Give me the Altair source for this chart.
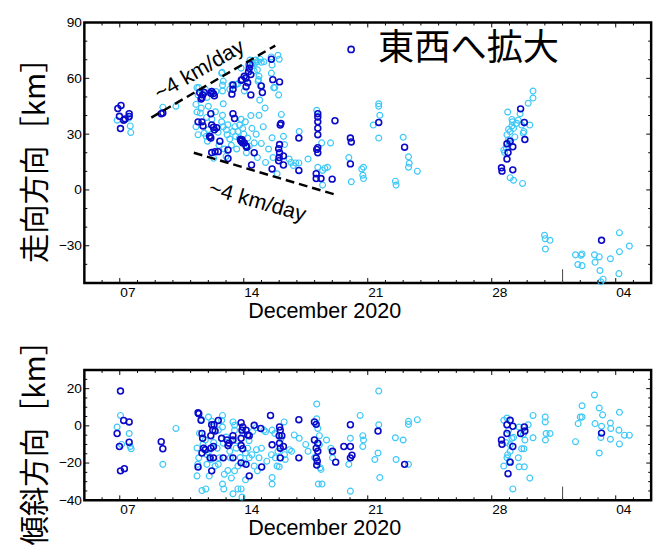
import altair as alt
import pandas as pd

LIGHT = "#3CC8F8"
DARK = "#0A0AC8"
LATIN = "Liberation Sans"
CJK = "Noto Sans CJK JP"

# ---- data: (day of December 2020, km); 32 = Jan 1 2021 ----
top_light = [
    (6.85, 37.5), (7.59, 34.4), (7.62, 30.9), (7.5, 38.5),
    (9.43, 44.5), (10.17, 45.0),
    (11.46, 55.0), (11.7, 52.9), (11.42, 51.1), (11.92, 49.7), (12.14, 51.8), (12.43, 52.9),
    (12.8, 56.4), (12.8, 53.2), (12.84, 58.5), (12.75, 62.8), (13.33, 56.7), (13.39, 54.1),
    (13.67, 57.1), (14.03, 53.2), (14.13, 59.7), (14.26, 67.5), (14.35, 69.8), (14.46, 66.8),
    (14.59, 64.0), (14.64, 68.1), (14.77, 69.0), (14.92, 70.3), (14.99, 68.6), (14.86, 61.1),
    (14.83, 59.3), (14.95, 55.9), (14.9, 48.3), (15.56, 62.8), (15.93, 72.4), (16.0, 70.3),
    (15.75, 55.0), (15.97, 51.1), (15.55, 71.5),
    (11.36, 55.0), (11.83, 54.1), (12.78, 63.2), (13.21, 54.1), (13.85, 65.5), (13.57, 56.7),
    (14.5, 68.1), (14.68, 69.8), (14.77, 64.6), (14.81, 58.5), (15.14, 68.9), (15.6, 67.2),
    (15.69, 55.0),
    (11.36, 41.9), (11.55, 41.4), (11.42, 29.7), (11.77, 30.5), (11.88, 28.8), (11.95, 26.2),
    (12.84, 46.3), (12.8, 40.1), (12.75, 36.6), (12.84, 34.0), (13.02, 32.3), (13.06, 29.7),
    (13.21, 27.4), (13.39, 31.4), (13.5, 34.0), (13.54, 28.8), (13.67, 31.4), (13.76, 34.9),
    (13.76, 27.9), (13.94, 33.1), (14.09, 36.6), (14.22, 27.9), (14.31, 23.6), (14.46, 33.1),
    (14.59, 25.3), (14.86, 40.1), (14.77, 17.4), (14.99, 25.0), (15.23, 14.8), (15.65, 17.4),
    (15.88, 8.7), (16.12, 40.6), (16.24, 28.8), (16.3, 24.4), (16.56, 16.6), (16.67, 14.8),
    (16.8, 13.1), (16.93, 14.5), (17.11, 14.5), (17.13, 31.4), (17.63, 16.6), (18.12, 42.8),
    (18.18, 12.2), (18.4, 25.3), (18.45, 10.5), (18.58, 11.7), (18.73, 12.2), (18.45, 2.6),
    (18.9, 25.3), (19.93, 17.4), (20.07, 4.4), (20.66, 11.3), (20.76, 12.2), (20.72, 7.9),
    (20.76, 6.1), (21.31, 34.9), (21.62, 46.3), (21.62, 45.0), (21.62, 27.9), (21.68, 40.1),
    (11.3, 46.0), (11.6, 44.0), (11.9, 39.0), (12.0, 45.0), (12.2, 38.0), (12.4, 42.0),
    (12.55, 31.0), (12.6, 24.0), (12.9, 22.0), (13.1, 35.0), (13.3, 24.0), (13.6, 22.0),
    (13.85, 38.0), (14.0, 30.0), (14.15, 20.0), (14.4, 40.0), (14.7, 30.0), (15.1, 34.0),
    (15.4, 22.0), (15.2, 44.0), (12.3, 17.0), (13.0, 18.0), (15.6, 28.0), (12.0, 32.5),
    (11.3, 34.0),
    (23.0, 28.3), (23.3, 17.8), (23.34, 14.3), (23.3, 12.2), (23.8, 10.1), (22.56, 4.7), (22.6, 2.6),
    (28.9, 41.9), (29.14, 37.9), (29.17, 36.6), (28.86, 29.7), (28.95, 32.6), (29.04, 31.4),
    (29.14, 34.4), (29.23, 33.1), (29.41, 35.8), (29.5, 37.5), (29.6, 41.0), (29.69, 34.9),
    (29.78, 30.5), (29.82, 31.4), (30.06, 46.6), (30.15, 34.9), (30.33, 53.2), (30.33, 49.4),
    (28.68, 21.5), (28.73, 20.1), (28.82, 22.7), (29.04, 6.6), (29.23, 5.2), (29.74, 3.5),
    (28.95, 27.0), (29.0, 25.0), (29.3, 28.5),
    (30.98, -24.4), (31.02, -26.2), (31.29, -27.1), (31.03, -31.8), (32.73, -34.9), (32.86, -40.1),
    (33.04, -35.1), (33.1, -34.4), (33.1, -40.7), (33.8, -34.9), (33.83, -38.9), (34.07, -36.0),
    (34.11, -43.3), (34.29, -48.0), (34.16, -49.4), (34.7, -37.0), (35.21, -23.0), (35.21, -33.2),
    (35.18, -45.0), (35.77, -30.2),
]

top_dark = [
    (6.89, 43.8), (7.07, 45.4), (6.98, 39.6), (7.22, 37.5), (7.53, 41.0), (7.53, 39.5), (7.04, 33.0), (7.3, 38.2),
    (9.34, 41.0), (9.43, 41.4),
    (11.51, 52.4), (11.64, 49.7), (11.68, 51.1), (11.77, 52.4), (12.19, 52.9), (12.29, 51.8),
    (12.34, 50.6), (13.39, 56.4), (13.39, 54.1), (13.33, 51.5), (13.89, 59.3), (14.03, 61.1),
    (14.22, 57.6), (14.31, 65.4), (14.35, 67.5), (14.4, 62.0), (14.13, 55.5), (14.4, 51.1),
    (14.99, 55.9), (15.05, 52.4), (15.56, 70.3), (15.64, 59.3), (16.02, 58.1), (13.86, 59.0),
    (14.12, 60.2), (14.27, 63.5), (12.15, 52.0), (11.59, 48.9),
    (11.42, 36.6), (11.64, 36.6), (11.7, 34.4), (12.14, 41.0), (12.19, 34.9), (12.34, 32.3),
    (12.29, 33.7), (12.1, 28.8), (12.14, 27.9), (12.65, 26.2), (13.39, 41.0), (13.48, 38.4),
    (13.9, 27.05), (13.94, 25.3), (13.85, 26.2), (14.13, 23.6), (12.19, 20.1), (12.38, 20.6),
    (12.56, 20.6), (13.11, 21.5), (13.11, 16.9), (14.44, 13.4), (14.59, 20.0), (16.06, 34.9),
    (16.1, 35.8), (16.02, 24.4), (15.97, 22.2), (16.02, 20.0), (16.0, 17.4), (16.24, 18.3),
    (16.24, 13.4), (15.97, 15.7), (15.6, 11.3), (17.11, 27.9), (17.11, 10.5), (18.18, 41.0),
    (18.18, 39.2), (18.18, 36.6), (18.18, 33.2), (18.18, 29.7), (18.18, 22.7), (18.12, 21.8),
    (18.18, 20.0), (18.09, 8.7), (18.09, 6.1), (18.36, 6.1), (18.99, 5.8), (19.15, 37.2),
    (20.02, 27.9), (20.07, 25.8), (20.02, 14.0), (21.62, 36.3), (12.07, 28.8), (12.47, 33.5),
    (13.81, 27.1), (14.03, 25.3), (14.17, 23.0),
    (23.08, 23.0), (29.63, 43.6), (29.84, 36.3), (29.87, 27.1), (28.86, 24.8), (29.04, 26.2),
    (29.19, 23.2), (28.92, 20.1), (28.86, 16.6), (28.55, 11.9), (28.58, 10.1), (29.19, 10.8),
    (34.2, -27.1),
]

bot_light = [
    (7.04, 5.6), (6.85, -0.6), (7.53, -4.1), (7.59, -11.1), (7.64, -12.3), (7.1, -10.0),
    (9.43, -20.7), (10.17, -1.4),
    (11.36, -11.9), (11.46, -17.2), (11.4, -20.7), (11.36, -26.9), (11.64, -34.8), (11.86, -33.9),
    (12.01, 4.7), (12.19, 2.4), (11.83, -7.6), (11.92, -15.5), (11.92, -20.7), (12.14, -18.1),
    (12.56, -2.3), (12.75, 2.9), (12.8, 5.6), (12.8, -0.6), (12.84, -9.3), (12.8, -31.3),
    (12.87, -33.9), (12.38, -21.6), (12.56, -20.7), (12.62, -17.2), (13.21, -13.7), (13.24, -17.2),
    (13.39, 2.1), (13.48, 0.3), (13.48, -2.3), (13.57, -12.0), (13.67, -21.6), (13.48, -24.2),
    (13.39, -36.5), (13.67, -33.9), (13.85, -33.9), (13.9, -38.3), (14.09, -14.6), (14.22, -12.0),
    (14.31, -17.2), (14.46, -15.5), (14.59, -21.6), (14.72, -12.8), (14.77, -24.2), (14.86, -17.2),
    (15.14, -2.3), (15.23, -3.2), (15.6, -2.3), (15.56, -15.5), (15.6, -27.8), (15.6, -31.3),
    (15.75, -4.1), (15.78, -17.2), (15.93, -13.7), (15.88, -21.6), (16.28, 2.1), (16.3, -15.5),
    (16.34, -18.1), (16.58, -12.8), (16.7, -13.7), (16.85, -4.9), (17.13, -6.7), (17.63, -13.7),
    (18.12, 11.7), (18.12, 3.8), (18.18, -1.4), (18.27, -5.3), (18.27, -10.2), (18.31, -22.5),
    (18.36, -23.4), (18.21, -31.3), (18.42, -31.3), (18.67, -7.6), (18.92, -12.0), (19.01, -17.2),
    (20.02, -6.7), (19.93, -20.7), (20.02, -35.1), (20.57, 5.6), (20.72, -5.3), (20.76, -7.6),
    (20.72, -11.1), (21.4, -18.1), (21.58, -14.6), (21.62, 18.7), (21.62, 0.6), (21.68, -27.8),
    (11.5, -4.0), (11.7, -10.0), (12.0, -14.0), (12.3, -9.0), (12.5, -12.0), (13.0, -6.0),
    (13.1, -24.0), (13.3, -28.0), (13.6, -8.0), (13.8, -17.0), (14.0, -20.0), (14.3, -8.0),
    (14.5, -3.0), (14.7, -1.0), (11.6, 3.5), (12.05, -27.0), (12.9, -26.0), (14.1, -29.0),
    (13.95, -4.0), (15.0, -12.0), (15.3, -19.0), (16.0, -22.0), (16.1, -7.0), (17.5, -10.0),
    (18.0, -17.0),
    (22.56, -6.4), (22.6, -18.1), (23.0, -7.6), (23.3, 2.4), (23.3, 0.8), (23.3, -20.7), (23.8, 3.3),
    (28.68, 3.0), (28.86, 4.2), (28.68, -21.6), (28.86, -17.2), (28.9, -15.5), (29.04, -13.7),
    (29.04, -10.2), (29.14, -6.7), (29.23, -6.2), (28.95, -2.3), (29.19, -33.9), (29.5, -17.2),
    (29.54, -22.0), (29.84, -22.0), (29.69, -12.3), (29.82, -12.3), (29.87, -7.6), (29.78, -4.6),
    (30.06, 0.6), (30.33, 5.6), (30.33, -6.4), (30.15, -28.1), (31.02, 4.7), (31.02, 2.1),
    (31.03, -7.6), (31.07, -4.1), (31.29, -4.1), (29.54, -0.6), (29.0, -19.0), (28.8, -9.0),
    (32.73, -8.5), (32.88, 1.2), (33.0, 4.7), (33.1, 4.7), (33.1, 10.8), (33.8, 16.6),
    (33.83, 1.2), (34.07, 9.6), (34.2, -0.2), (34.26, 5.9), (34.16, -6.2), (34.07, -14.6),
    (34.7, 1.5), (34.72, -1.4), (34.7, -7.2), (35.21, 7.3), (35.18, -2.3), (35.21, -9.7),
    (35.49, -5.0), (35.77, -5.0),
]

bot_dark = [
    (7.04, 18.7), (6.85, -4.1), (7.22, 2.9), (7.53, 2.1), (7.53, -8.8), (6.98, -11.1), (7.04, -24.2), (7.26, -23.0),
    (9.34, -8.5), (9.43, -12.3),
    (11.42, 7.0), (11.46, 6.5), (11.59, 3.0), (11.64, -4.1), (11.68, -6.7), (11.42, -22.1),
    (12.19, -24.2), (11.73, -12.0), (11.64, -14.6), (11.83, -12.8), (12.1, -17.2), (12.29, -17.2),
    (12.19, 0.6), (12.32, 0.6), (12.25, -2.3), (12.38, -2.8), (12.14, -5.3), (12.29, -11.1),
    (12.14, -12.0), (12.56, 2.9), (12.75, -6.7), (12.84, -17.2), (13.06, -7.6), (13.11, -10.6),
    (13.17, -9.3), (13.39, -5.3), (13.39, -7.6), (13.39, -17.2), (13.85, 1.7), (13.9, -2.3),
    (13.94, -0.6), (13.85, -6.7), (13.85, -10.6), (13.94, -12.3), (14.13, -2.3), (14.22, -4.9),
    (14.31, -5.3), (14.13, -20.7), (14.31, -26.9), (14.59, 0.3), (13.85, -19.9), (14.96, -1.4),
    (15.01, -22.1), (15.51, 5.6), (15.6, -10.2), (16.02, -0.6), (16.06, -2.3), (16.0, -5.3),
    (16.15, -5.3), (16.02, -9.3), (16.06, -12.0), (16.24, -11.1), (16.06, -17.2), (17.11, 3.3),
    (17.11, -17.2), (17.99, 2.1), (18.09, 0.8), (17.99, -7.6), (18.18, -9.3), (18.09, -12.0),
    (18.18, -13.7), (18.09, -17.2), (18.15, -19.0), (18.12, -21.1), (19.01, -13.7), (19.19, -19.5),
    (19.65, -11.1), (20.02, -11.1), (20.02, 0.6), (20.02, -17.2), (20.11, -15.8), (21.58, -2.8),
    (23.08, -20.7), (28.55, -7.6), (28.58, -9.9), (29.04, 3.0), (28.86, 0.6), (29.19, -0.2),
    (28.86, -4.1), (29.19, -11.1), (29.04, -19.5), (28.92, -25.7), (29.63, -4.1), (29.84, -0.6),
    (29.87, -2.8), (34.2, -3.9),
]

# dashed ~4 km/day guide lines (day, km, segment)
guide_lines = [(8.78, 38.9, "a"), (15.78, 77.6, "a"), (11.18, 20.0, "b"), (19.19, -2.6, "b")]
guide_labels = [(11.49, 64.6, "~4 km/day"), (14.77, -6.1, "~4 km/day")]
legend_label = "東西へ拡大"
top_title = "走向方向［km］"
bot_title = "傾斜方向［km］"

x_tick_labels = [(2020, 12, 7), (2020, 12, 14), (2020, 12, 21), (2020, 12, 28), (2021, 1, 4)]
x_major_days = [7, 14, 21, 28, 35]
x_minor_days = [d for d in range(6, 37) if d not in x_major_days]
year_change_day = [32]

top_y_labels = [-30, 0, 30, 60, 90]
top_y_minor = [v for v in range(-40, 90, 10) if v % 30 != 0]
top_y_major = [-30, 0, 30, 60]
bot_y_labels = [-40, -20, 0, 20]
bot_y_minor = [v for v in range(-35, 30, 5) if v % 20 != 0]
bot_y_major = [-20, 0, 20]

W = 579
H_TOP = 266
H_BOT = 133


def times(days):
    base = pd.Timestamp("2020-12-01")
    return [base + pd.Timedelta(days=float(d) - 1.0) for d in days]


def pts_df(pairs):
    return pd.DataFrame({"t": times([p[0] for p in pairs]), "km": [p[1] for p in pairs]})


X_DOMAIN = [alt.DateTime(year=2020, month=12, date=5), alt.DateTime(year=2021, month=1, date=6)]


def xs():
    return alt.Scale(domain=X_DOMAIN)


def tick_layers(ys, ymin, ymaj, H):
    layers = []
    for days, ln in ((x_minor_days, 3), (x_major_days, 5)):
        df = pd.DataFrame({"t": times(days)})
        base = alt.Chart(df).mark_rule(color="black", strokeWidth=1)
        layers.append(base.encode(x=alt.X("t:T", scale=xs()), y=alt.value(H), y2=alt.value(H - ln)))
        layers.append(base.encode(x=alt.X("t:T", scale=xs()), y=alt.value(0), y2=alt.value(ln)))
    for vals, ln in ((ymin, 3), (ymaj, 5)):
        df = pd.DataFrame({"km": vals})
        base = alt.Chart(df).mark_rule(color="black", strokeWidth=1)
        layers.append(base.encode(y=alt.Y("km:Q", scale=ys), x=alt.value(0), x2=alt.value(ln)))
        layers.append(base.encode(y=alt.Y("km:Q", scale=ys), x=alt.value(W), x2=alt.value(W - ln)))
    yc = pd.DataFrame({"t": times(year_change_day)})
    layers.append(alt.Chart(yc).mark_rule(color="#444444", strokeWidth=1).encode(
        x=alt.X("t:T", scale=xs()), y=alt.value(H), y2=alt.value(H - 14)))
    return layers


def panel(light_pairs, dark_pairs, ydom, ylabels, ymin, ymaj, ytitle, H, top=False):
    ys = alt.Scale(domain=ydom, nice=False, zero=False)
    xaxis = alt.Axis(
        values=[alt.DateTime(year=y, month=m, date=d) for (y, m, d) in x_tick_labels],
        format="%d", labelAlign="left", ticks=False, domain=False, grid=False,
        labelPadding=3, labelFontSize=14, labelFont=LATIN, labelColor="black",
        labelOverlap=False, labelFlush=False,
        title="December 2020", titleFont=LATIN, titleFontSize=22, titleFontWeight="normal",
        titleColor="black", titlePadding=1, titleX=245,
    )
    yaxis = alt.Axis(
        values=ylabels, ticks=False, domain=False, grid=False, labelPadding=3,
        labelFontSize=14, labelFont=LATIN, labelColor="black", labelFlush=False, labelOverlap=False,
        title=ytitle, titleFont=CJK, titleFontSize=30, titleFontWeight="normal",
        titleColor="black", titlePadding=8,
    )
    light = alt.Chart(pts_df(light_pairs)).mark_point(
        shape="circle", filled=False, size=36, strokeWidth=1.2, color=LIGHT, opacity=1
    ).encode(x=alt.X("t:T", scale=xs(), axis=xaxis), y=alt.Y("km:Q", scale=ys, axis=yaxis))

    ddf = pts_df(dark_pairs)
    ddf["grp"] = legend_label
    if top:
        color = alt.Color(
            "grp:N",
            scale=alt.Scale(domain=[legend_label], range=[DARK]),
            legend=alt.Legend(
                orient="none", legendX=254, legendY=9, title=None, padding=0,
                labelFontSize=37, labelFont=CJK, labelColor="black", labelLimit=400,
                labelOffset=9, symbolType="circle", symbolSize=40, symbolStrokeWidth=1.6,
            ),
        )
    else:
        color = alt.value(DARK)
    dark = alt.Chart(ddf).mark_point(
        shape="circle", filled=False, size=36, strokeWidth=1.6, opacity=1
    ).encode(x=alt.X("t:T", scale=xs()), y=alt.Y("km:Q", scale=ys), color=color)

    layers = [light, dark] + tick_layers(ys, ymin, ymaj, H)

    if top:
        ldf = pd.DataFrame({
            "t": times([g[0] for g in guide_lines]),
            "km": [g[1] for g in guide_lines],
            "seg": [g[2] for g in guide_lines],
        })
        layers.append(alt.Chart(ldf).mark_line(color="black", strokeWidth=2.5, strokeDash=[9, 5]).encode(
            x=alt.X("t:T", scale=xs()), y=alt.Y("km:Q", scale=ys), detail="seg:N"))
        for (gd, gk, gt), ang in zip(guide_labels, (330, 16)):
            tdf = pd.DataFrame({"t": times([gd]), "km": [gk], "txt": [gt]})
            layers.append(alt.Chart(tdf).mark_text(
                font=LATIN, fontSize=22, angle=ang, color="black", align="center", baseline="middle"
            ).encode(x=alt.X("t:T", scale=xs()), y=alt.Y("km:Q", scale=ys), text="txt:N"))

    return alt.layer(*layers).properties(width=W, height=H)


top_chart = panel(top_light, top_dark, [-50, 90], top_y_labels, top_y_minor, top_y_major,
                  top_title, H_TOP, top=True)
bot_chart = panel(bot_light, bot_dark, [-40, 30], bot_y_labels, bot_y_minor, bot_y_major,
                  bot_title, H_BOT, top=False)

chart = (
    alt.vconcat(top_chart, bot_chart, spacing=89, bounds="flush")
    .resolve_scale(x="independent", y="independent", color="independent")
    .properties(padding={"left": 12, "top": 0, "right": 5, "bottom": 0}, background="white")
    .configure_view(stroke="black", strokeWidth=2.5)
)

chart.save("out.html", embed_options={"renderer": "svg", "actions": False})
